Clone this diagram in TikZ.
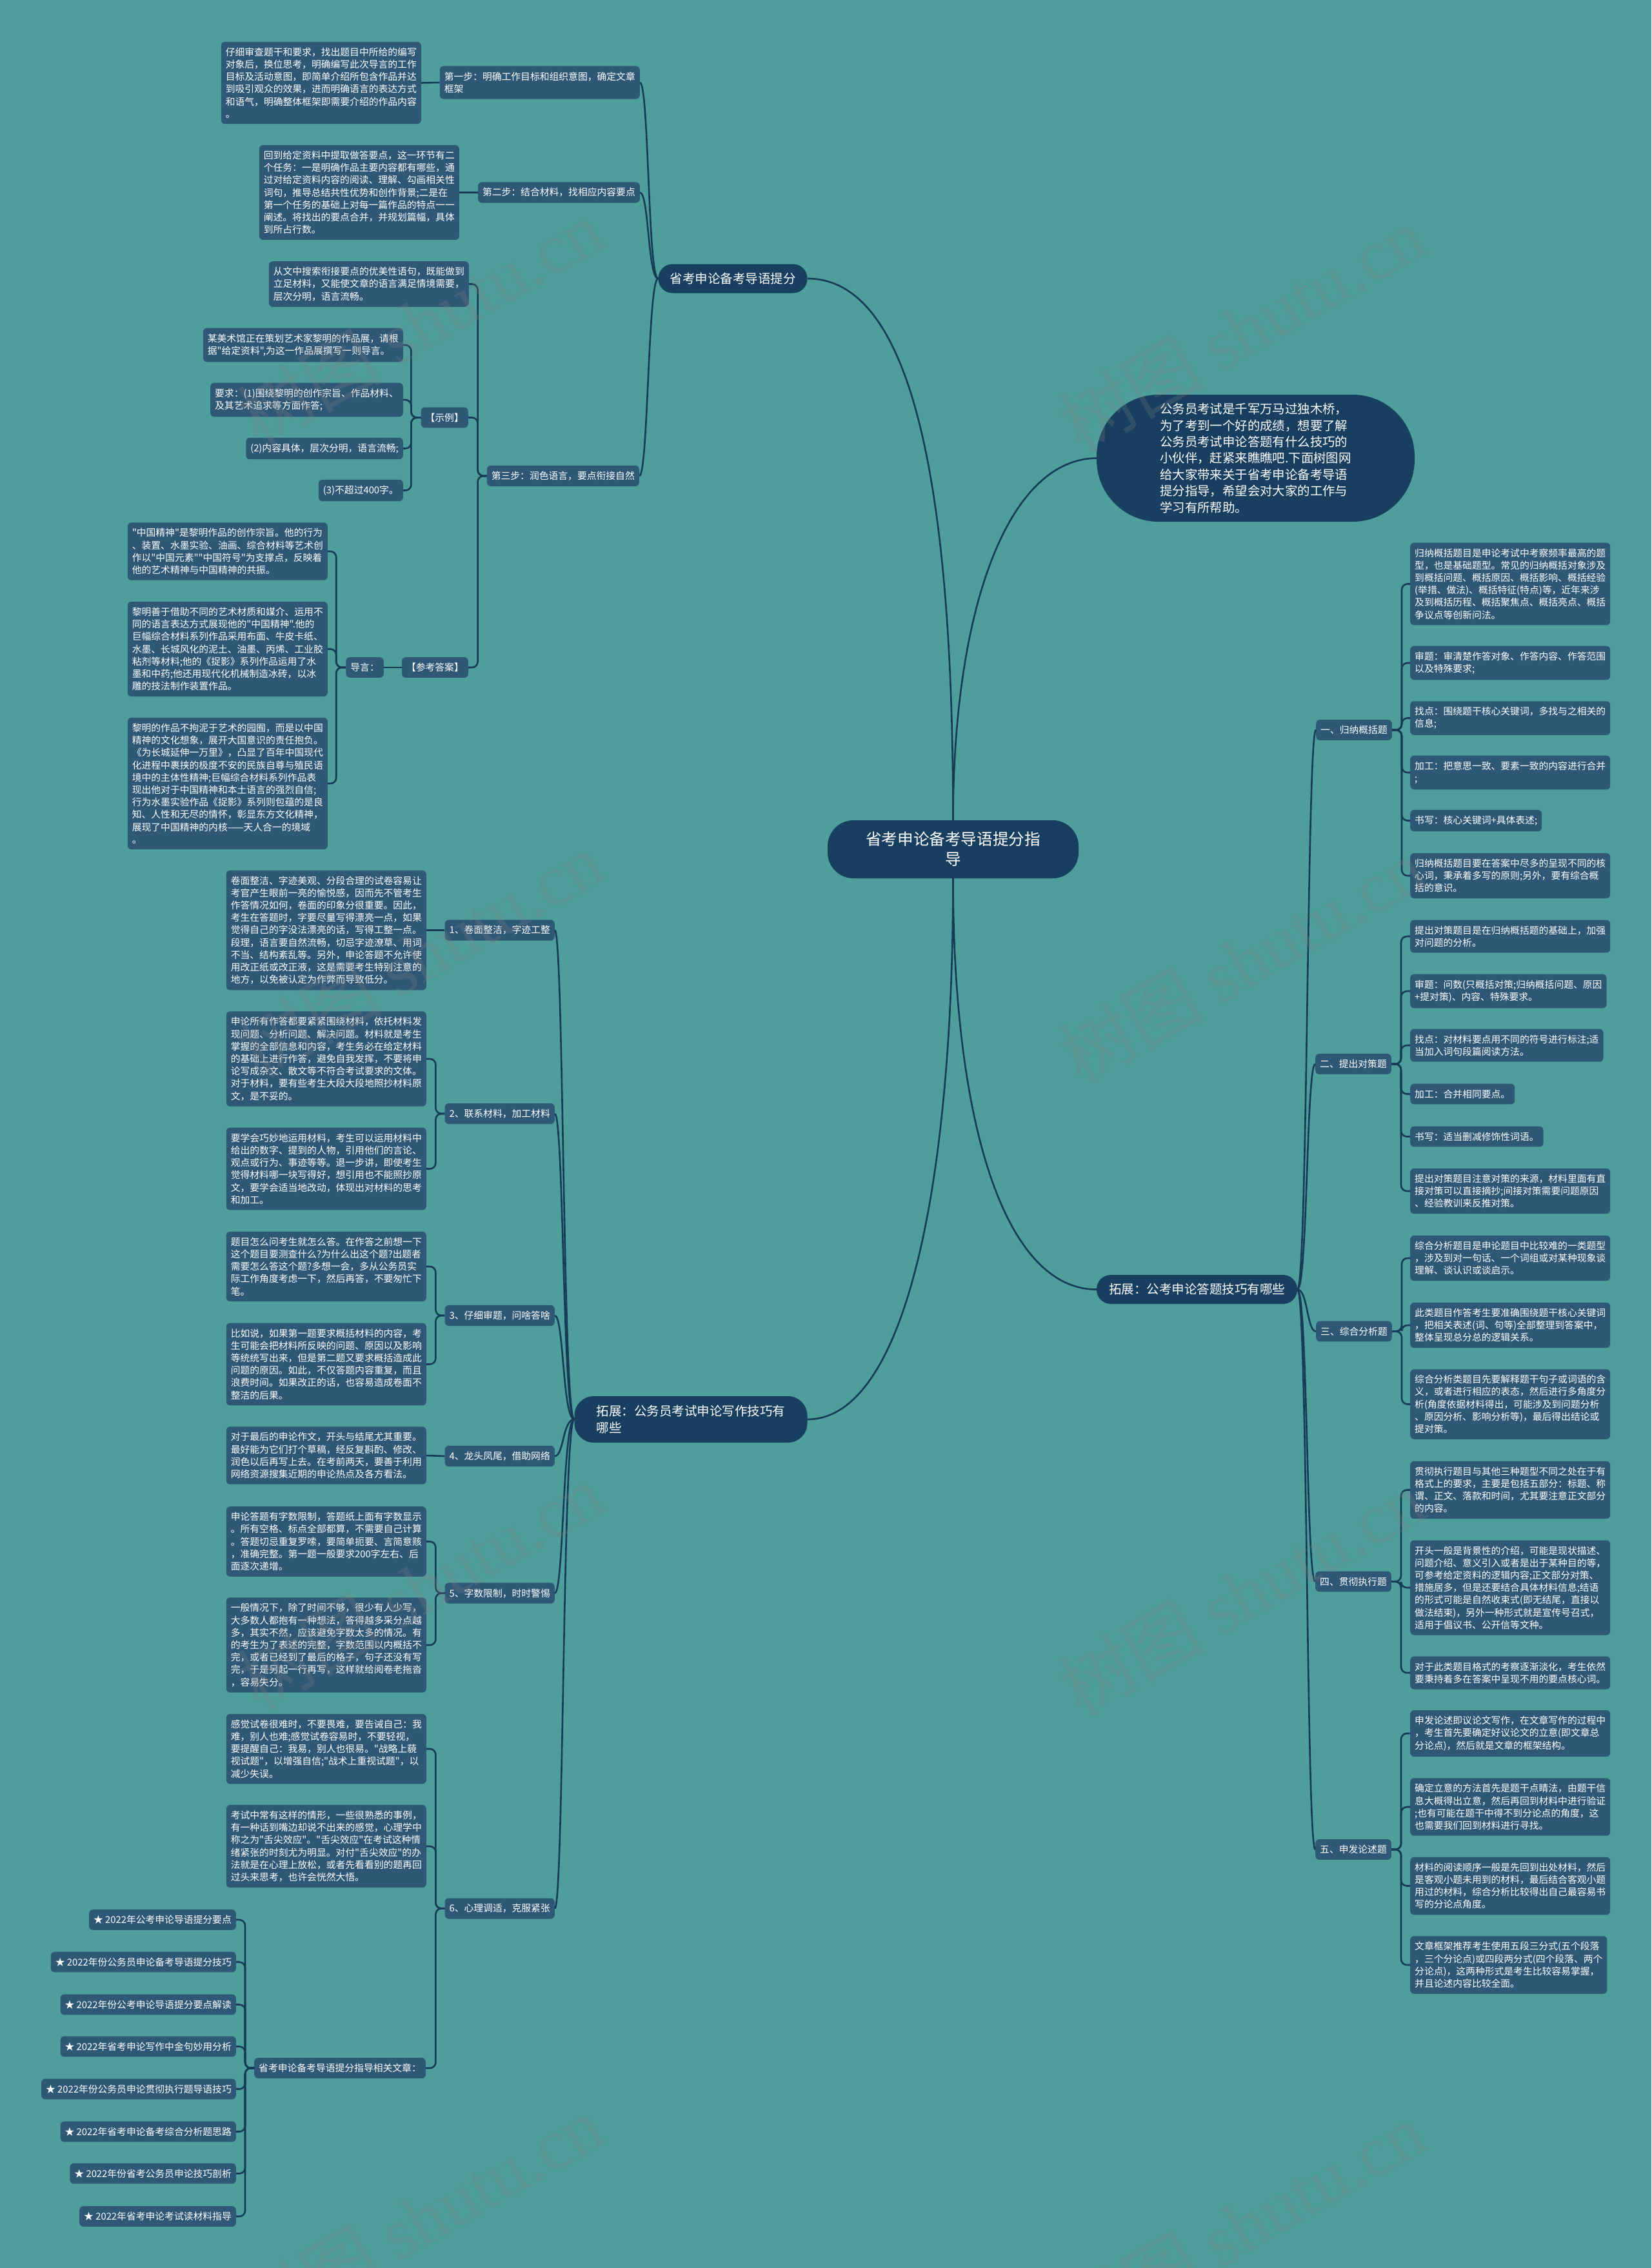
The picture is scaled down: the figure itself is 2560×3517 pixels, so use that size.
\documentclass[tikz,border=0pt]{standalone}
\usepackage{fontspec}
\newfontfamily\cjk{Noto Sans CJK SC}
\newfontfamily\wmserif{Liberation Serif}
\definecolor{bg}{HTML}{4E9E9B}
\definecolor{nodebg}{HTML}{2F5877}
\definecolor{darknode}{HTML}{183F60}
\definecolor{linec}{HTML}{163A58}
\tikzset{
  base/.style={text=white, align=left},
  note/.style={base, fill=nodebg, rounded corners=6pt, font=\cjk\fontsize{14.8}{19.2}\selectfont, inner xsep=7pt, inner ysep=9pt},
  pill/.style={base, fill=darknode, rounded corners=22pt, font=\cjk\fontsize{19.5}{25.4}\selectfont, inner xsep=16pt, inner ysep=10pt},
  hub/.style={fill=darknode, text=white, align=center, rounded corners=40pt, font=\cjk\fontsize{24.6}{31}\selectfont, minimum width=389pt, minimum height=90pt},
  bubble/.style={base, fill=darknode, rounded corners=96pt, font=\cjk\fontsize{19.4}{25.4}\selectfont, minimum width=493pt, minimum height=197pt},
  conn/.style={draw=linec, line width=2.6pt, rounded corners=9pt},
  curve/.style={draw=linec, line width=2.6pt},
  wm/.style={rotate=30, text=gray, opacity=0.25, font=\fontsize{112}{112}\selectfont}
}
\begin{document}
\begin{tikzpicture}[x=1pt,y=-1pt]
\fill[bg] (0,0) rectangle (2560,3517);
\useasboundingbox (0,0) rectangle (2560,3517);

% ---------- centre ----------
\node[hub] (C) at (1477.5,1317) {省考申论备考导语提分指\\导};

% ---------- top-left branch ----------
\node[pill, minimum width=231pt, minimum height=45pt] (L0) at (1136,432) {省考申论备考导语提分};

\node[note, anchor=east] (s1) at (992,128) {第一步：明确工作目标和组织意图，确定文章\\框架};
\node[note, anchor=east] (n1) at (653,128.5) {仔细审查题干和要求，找出题目中所给的编写\\对象后，换位思考，明确编写此次导言的工作\\目标及活动意图，即简单介绍所包含作品并达\\到吸引观众的效果，进而明确语言的表达方式\\和语气，明确整体框架即需要介绍的作品内容\\。};

\node[note, anchor=east] (s2) at (992,298.5) {第二步：结合材料，找相应内容要点};
\node[note, anchor=east] (n2) at (712,298.5) {回到给定资料中提取做答要点，这一环节有二\\个任务：一是明确作品主要内容都有哪些，通\\过对给定资料内容的阅读、理解、勾画相关性\\词句，推导总结共性优势和创作背景;二是在\\第一个任务的基础上对每一篇作品的特点一一\\阐述。将找出的要点合并，并规划篇幅，具体\\到所占行数。};

\node[note, anchor=east] (s3) at (991,738) {第三步：润色语言，要点衔接自然};
\node[note, anchor=east] (n3) at (727,440.5) {从文中搜索衔接要点的优美性语句，既能做到\\立足材料，又能使文章的语言满足情境需要，\\层次分明，语言流畅。};
\node[note, anchor=east] (ex) at (726,647.5) {【示例】};
\node[note, anchor=east] (ex1) at (625,535) {某美术馆正在策划艺术家黎明的作品展，请根\\据"给定资料",为这一作品展撰写一则导言。};
\node[note, anchor=east] (ex2) at (625,620) {要求：(1)围绕黎明的创作宗旨、作品材料、\\及其艺术追求等方面作答;};
\node[note, anchor=east] (ex3) at (625,695.5) {(2)内容具体，层次分明，语言流畅;};
\node[note, anchor=east] (ex4) at (625,760.5) {(3)不超过400字。};
\node[note, anchor=east] (ans) at (726,1035) {【参考答案】};
\node[note, anchor=east] (dy) at (595,1035) {导言：};
\node[note, anchor=east] (a1) at (508,855) {"中国精神"是黎明作品的创作宗旨。他的行为\\、装置、水墨实验、油画、综合材料等艺术创\\作以"中国元素""中国符号"为支撑点，反映着\\他的艺术精神与中国精神的共振。};
\node[note, anchor=east] (a2) at (508,1006.5) {黎明善于借助不同的艺术材质和媒介、运用不\\同的语言表达方式展现他的"中国精神".他的\\巨幅综合材料系列作品采用布面、牛皮卡纸、\\水墨、长城风化的泥土、油墨、丙烯、工业胶\\粘剂等材料;他的《捉影》系列作品运用了水\\墨和中药;他还用现代化机械制造冰砖，以冰\\雕的技法制作装置作品。};
\node[note, anchor=east] (a3) at (508,1215) {黎明的作品不拘泥于艺术的园囿，而是以中国\\精神的文化想象，展开大国意识的责任抱负。\\《为长城延伸一万里》，凸显了百年中国现代\\化进程中裹挟的极度不安的民族自尊与殖民语\\境中的主体性精神;巨幅综合材料系列作品表\\现出他对于中国精神和本土语言的强烈自信;\\行为水墨实验作品《捉影》系列则包蕴的是良\\知、人性和无尽的情怀，彰显东方文化精神，\\展现了中国精神的内核——天人合一的境域\\。};

% ---------- bottom-left branch ----------
\node[pill, minimum width=361pt, minimum height=72pt, rounded corners=30pt] (L1) at (1071,2201) {拓展：公务员考试申论写作技巧有\\哪些};

\node[note, anchor=east] (t1) at (860,1442.5) {1、卷面整洁，字迹工整};
\node[note, anchor=east] (t1a) at (661,1442.5) {卷面整洁、字迹美观、分段合理的试卷容易让\\考官产生眼前一亮的愉悦感，因而先不管考生\\作答情况如何，卷面的印象分很重要。因此，\\考生在答题时，字要尽量写得漂亮一点，如果\\觉得自己的字没法漂亮的话，写得工整一点。\\段理，语言要自然流畅，切忌字迹潦草、用词\\不当、结构紊乱等。另外，申论答题不允许使\\用改正纸或改正液，这是需要考生特别注意的\\地方，以免被认定为作弊而导致低分。};

\node[note, anchor=east] (t2) at (860,1727) {2、联系材料，加工材料};
\node[note, anchor=east] (t2a) at (661,1642) {申论所有作答都要紧紧围绕材料，依托材料发\\现问题、分析问题、解决问题。材料就是考生\\掌握的全部信息和内容，考生务必在给定材料\\的基础上进行作答，避免自我发挥，不要将申\\论写成杂文、散文等不符合考试要求的文体。\\对于材料，要有些考生大段大段地照抄材料原\\文，是不妥的。};
\node[note, anchor=east] (t2b) at (661,1812.5) {要学会巧妙地运用材料，考生可以运用材料中\\给出的数字、提到的人物，引用他们的言论、\\观点或行为、事迹等等。退一步讲，即使考生\\觉得材料哪一块写得好，想引用也不能照抄原\\文，要学会适当地改动，体现出对材料的思考\\和加工。};

\node[note, anchor=east] (t3) at (860,2040) {3、仔细审题，问啥答啥};
\node[note, anchor=east] (t3a) at (661,1964) {题目怎么问考生就怎么答。在作答之前想一下\\这个题目要测查什么?为什么出这个题?出题者\\需要怎么答这个题?多想一会，多从公务员实\\际工作角度考虑一下，然后再答，不要匆忙下\\笔。};
\node[note, anchor=east] (t3b) at (661,2115.5) {比如说，如果第一题要求概括材料的内容，考\\生可能会把材料所反映的问题、原因以及影响\\等统统写出来，但是第二题又要求概括造成此\\问题的原因。如此，不仅答题内容重复，而且\\浪费时间。如果改正的话，也容易造成卷面不\\整洁的后果。};

\node[note, anchor=east] (t4) at (860,2258) {4、龙头凤尾，借助网络};
\node[note, anchor=east] (t4a) at (661,2257) {对于最后的申论作文，开头与结尾尤其重要。\\最好能为它们打个草稿，经反复斟酌、修改、\\润色以后再写上去。在考前两天，要善于利用\\网络资源搜集近期的申论热点及各方看法。};

\node[note, anchor=east] (t5) at (860,2470.5) {5、字数限制，时时警惕};
\node[note, anchor=east] (t5a) at (661,2390.5) {申论答题有字数限制，答题纸上面有字数显示\\。所有空格、标点全部都算，不需要自己计算\\。答题切忌重复罗嗦，要简单扼要、言简意赅\\，准确完整。第一题一般要求200字左右、后\\面逐次递增。};
\node[note, anchor=east] (t5b) at (661,2551) {一般情况下，除了时间不够，很少有人少写，\\大多数人都抱有一种想法，答得越多采分点越\\多，其实不然，应该避免字数太多的情况。有\\的考生为了表述的完整，字数范围以内概括不\\完，或者已经到了最后的格子，句子还没有写\\完，于是另起一行再写，这样就给阅卷老拖沓\\，容易失分。};

\node[note, anchor=east] (t6) at (860,2959.5) {6、心理调适，克服紧张};
\node[note, anchor=east] (t6a) at (661,2712) {感觉试卷很难时，不要畏难，要告诫自己：我\\难，别人也难;感觉试卷容易时，不要轻视，\\要提醒自己：我易，别人也很易。"战略上藐\\视试题"，以增强自信;"战术上重视试题"，以\\减少失误。};
\node[note, anchor=east] (t6b) at (661,2863) {考试中常有这样的情形，一些很熟悉的事例，\\有一种话到嘴边却说不出来的感觉，心理学中\\称之为"舌尖效应"。"舌尖效应"在考试这种情\\绪紧张的时刻尤为明显。对付"舌尖效应"的办\\法就是在心理上放松，或者先看看别的题再回\\过头来思考，也许会恍然大悟。};
\node[note, anchor=east] (rel) at (660,3207) {省考申论备考导语提分指导相关文章：};
\node[note, anchor=east] (r1) at (366,2977) {★ 2022年公考申论导语提分要点};
\node[note, anchor=east] (r2) at (366,3042.5) {★ 2022年份公务员申论备考导语提分技巧};
\node[note, anchor=east] (r3) at (366,3108.5) {★ 2022年份公考申论导语提分要点解读};
\node[note, anchor=east] (r4) at (366,3173.5) {★ 2022年省考申论写作中金句妙用分析};
\node[note, anchor=east] (r5) at (366,3239.5) {★ 2022年份公务员申论贯彻执行题导语技巧};
\node[note, anchor=east] (r6) at (366,3305.5) {★ 2022年省考申论备考综合分析题思路};
\node[note, anchor=east] (r7) at (366,3370.5) {★ 2022年份省考公务员申论技巧剖析};
\node[note, anchor=east] (r8) at (366,3437) {★ 2022年省考申论考试读材料指导};

% ---------- right side ----------
\node[bubble] (intro) at (1946.5,710.5) {公务员考试是千军万马过独木桥，\\为了考到一个好的成绩，想要了解\\公务员考试申论答题有什么技巧的\\小伙伴，赶紧来瞧瞧吧.下面树图网\\给大家带来关于省考申论备考导语\\提分指导，希望会对大家的工作与\\学习有所帮助。};

\node[pill, minimum width=311pt, minimum height=45pt] (R0) at (1855.5,1999.5) {拓展：公考申论答题技巧有哪些};

\node[note, anchor=west] (k1) at (2040,1132) {一、归纳概括题};
\node[note, anchor=west] (k1a) at (2186,905.5) {归纳概括题目是申论考试中考察频率最高的题\\型，也是基础题型。常见的归纳概括对象涉及\\到概括问题、概括原因、概括影响、概括经验\\(举措、做法)、概括特征(特点)等，近年来涉\\及到概括历程、概括聚焦点、概括亮点、概括\\争议点等创新问法。};
\node[note, anchor=west] (k1b) at (2186,1028) {审题：审清楚作答对象、作答内容、作答范围\\以及特殊要求;};
\node[note, anchor=west] (k1c) at (2186,1113.5) {找点：围绕题干核心关键词，多找与之相关的\\信息;};
\node[note, anchor=west] (k1d) at (2186,1198) {加工：把意思一致、要素一致的内容进行合并\\;};
\node[note, anchor=west] (k1e) at (2186,1272.5) {书写：核心关键词+具体表述;};
\node[note, anchor=west] (k1f) at (2186,1358) {归纳概括题目要在答案中尽多的呈现不同的核\\心词，秉承着多写的原则;另外，要有综合概\\括的意识。};

\node[note, anchor=west] (k2) at (2039,1650) {二、提出对策题};
\node[note, anchor=west] (k2a) at (2186,1452) {提出对策题目是在归纳概括题的基础上，加强\\对问题的分析。};
\node[note, anchor=west] (k2b) at (2186,1537) {审题：问数(只概括对策;归纳概括问题、原因\\+提对策)、内容、特殊要求。};
\node[note, anchor=west] (k2c) at (2186,1621) {找点：对材料要点用不同的符号进行标注;适\\当加入词句段篇阅读方法。};
\node[note, anchor=west] (k2d) at (2186,1696.5) {加工：合并相同要点。};
\node[note, anchor=west] (k2e) at (2186,1762.5) {书写：适当删减修饰性词语。};
\node[note, anchor=west] (k2f) at (2186,1847) {提出对策题目注意对策的来源，材料里面有直\\接对策可以直接摘抄;间接对策需要问题原因\\、经验教训来反推对策。};

\node[note, anchor=west] (k3) at (2040,2064.5) {三、综合分析题};
\node[note, anchor=west] (k3a) at (2186,1951) {综合分析题目是申论题目中比较难的一类题型\\，涉及到对一句话、一个词组或对某种现象谈\\理解、谈认识或谈启示。};
\node[note, anchor=west] (k3b) at (2186,2055) {此类题目作答考生要准确围绕题干核心关键词\\，把相关表述(词、句等)全部整理到答案中，\\整体呈现总分总的逻辑关系。};
\node[note, anchor=west] (k3c) at (2186,2177.5) {综合分析类题目先要解释题干句子或词语的含\\义，或者进行相应的表态，然后进行多角度分\\析(角度依据材料得出，可能涉及到问题分析\\、原因分析、影响分析等)，最后得出结论或\\提对策。};

\node[note, anchor=west] (k4) at (2039,2452.5) {四、贯彻执行题};
\node[note, anchor=west] (k4a) at (2186,2310.5) {贯彻执行题目与其他三种题型不同之处在于有\\格式上的要求，主要是包括五部分：标题、称\\谓、正文、落款和时间，尤其要注意正文部分\\的内容。};
\node[note, anchor=west] (k4b) at (2186,2462) {开头一般是背景性的介绍，可能是现状描述、\\问题介绍、意义引入或者是出于某种目的等，\\可参考给定资料的逻辑内容;正文部分对策、\\措施居多，但是还要结合具体材料信息;结语\\的形式可能是自然收束式(即无结尾，直接以\\做法结束)，另外一种形式就是宣传号召式，\\适用于倡议书、公开信等文种。};
\node[note, anchor=west] (k4c) at (2186,2594) {对于此类题目格式的考察逐渐淡化，考生依然\\要秉持着多在答案中呈现不用的要点核心词。};

\node[note, anchor=west] (k5) at (2039,2868) {五、申发论述题};
\node[note, anchor=west] (k5a) at (2186,2688) {申发论述即议论文写作，在文章写作的过程中\\，考生首先要确定好议论文的立意(即文章总\\分论点)，然后就是文章的框架结构。};
\node[note, anchor=west] (k5b) at (2186,2802) {确定立意的方法首先是题干点睛法，由题干信\\息大概得出立意，然后再回到材料中进行验证\\;也有可能在题干中得不到分论点的角度，这\\也需要我们回到材料进行寻找。};
\node[note, anchor=west] (k5c) at (2186,2924.5) {材料的阅读顺序一般是先回到出处材料，然后\\是客观小题未用到的材料，最后结合客观小题\\用过的材料，综合分析比较得出自己最容易书\\写的分论点角度。};
\node[note, anchor=west] (k5d) at (2186,3047) {文章框架推荐考生使用五段三分式(五个段落\\，三个分论点)或四段两分式(四个段落、两个\\分论点)，这两种形式是考生比较容易掌握，\\并且论述内容比较全面。};

% ---------- connectors from centre ----------
\draw[curve] (C.north) .. controls (1477.5,700) and (1400,432) .. (L0.east);
\draw[curve] (C.north) .. controls (1477.5,950) and (1560,712) .. (intro.west);
\draw[curve] (C.south) .. controls (1477.5,1850) and (1400,2201) .. (L1.east);
\draw[curve] (C.south) .. controls (1477.5,1750) and (1560,1999.5) .. (R0.west);

% ---------- spines ----------
\foreach \c in {s1,s2,s3}
  \draw[curve] (L0.west) .. controls +(-16,0) and +(14,0) .. (\c.east);
\foreach \c in {t1,t2,t3,t4,t5,t6}
  \draw[curve] (L1.west) .. controls +(-18,0) and +(14,0) .. (\c.east);
\foreach \c in {k1,k2,k3,k4,k5}
  \draw[curve] (R0.east) .. controls +(16,0) and +(-14,0) .. (\c.west);

% ---------- left children ----------
\draw[conn] (s1.west) -- (n1.east);
\draw[conn] (s2.west) -- (n2.east);
\foreach \c in {n3,ex,ans}
  \draw[conn] (s3.west) -- ++(-14,0) |- (\c.east);
\foreach \c in {ex1,ex2,ex3,ex4}
  \draw[conn] (ex.west) -- ++(-15,0) |- (\c.east);
\draw[conn] (ans.west) -- (dy.east);
\foreach \c in {a1,a2,a3}
  \draw[conn] (dy.west) -- ++(-15,0) |- (\c.east);

\draw[conn] (t1.west) -- (t1a.east);
\foreach \c in {t2a,t2b}
  \draw[conn] (t2.west) -- ++(-14,0) |- (\c.east);
\foreach \c in {t3a,t3b}
  \draw[conn] (t3.west) -- ++(-14,0) |- (\c.east);
\draw[conn] (t4.west) -- (t4a.east);
\foreach \c in {t5a,t5b}
  \draw[conn] (t5.west) -- ++(-14,0) |- (\c.east);
\foreach \c in {t6a,t6b,rel}
  \draw[conn] (t6.west) -- ++(-14,0) |- (\c.east);
\foreach \c in {r1,r2,r3,r4,r5,r6,r7,r8}
  \draw[conn] (rel.west) -- ++(-14,0) |- (\c.east);

% ---------- right children ----------
\foreach \c in {k1a,k1b,k1c,k1d,k1e,k1f}
  \draw[conn] (k1.east) -- ++(15,0) |- (\c.west);
\foreach \c in {k2a,k2b,k2c,k2d,k2e,k2f}
  \draw[conn] (k2.east) -- ++(15,0) |- (\c.west);
\foreach \c in {k3a,k3b,k3c}
  \draw[conn] (k3.east) -- ++(15,0) |- (\c.west);
\foreach \c in {k4a,k4b,k4c}
  \draw[conn] (k4.east) -- ++(15,0) |- (\c.west);
\foreach \c in {k5a,k5b,k5c,k5d}
  \draw[conn] (k5.east) -- ++(15,0) |- (\c.west);

% ---------- watermarks ----------
\foreach \x/\y [count=\i] in {651/500, 1925/510, 651/1480, 1925/1490, 651/2460, 1925/2470, 651/3440, 1925/3450}
  \node[wm] (wm\i) at (\x,\y) {\cjk 树图 \wmserif shutu.cn};
\end{tikzpicture}
\end{document}
